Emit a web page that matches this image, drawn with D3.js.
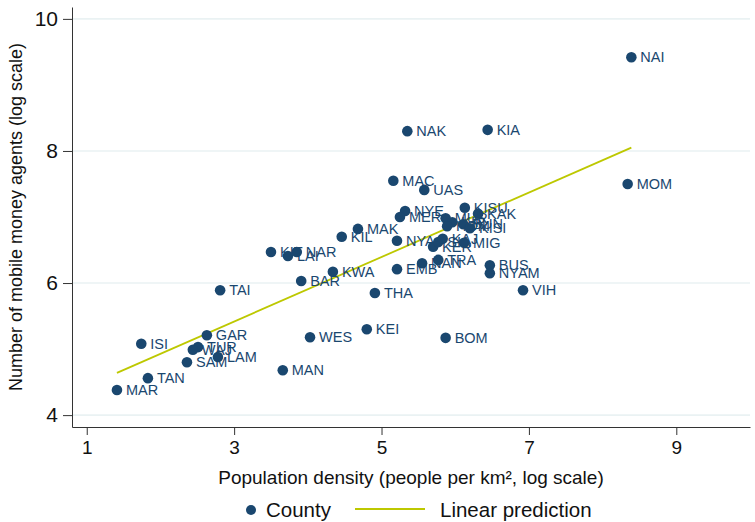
<!DOCTYPE html>
<html>
<head>
<meta charset="utf-8">
<script src="https://cdn.jsdelivr.net/npm/d3@7"></script>
<style>
  body { margin: 0; background: #fff; }
  svg { display: block; }
</style>
</head>
<body>
<svg id="chart" width="755" height="522"></svg>
<script>
// county codes, log population density, log number of agents
let counties = ['NAI','KIA','NAK','MAC','UAS','MOM','KISU','NYE','MER','MUR','KIR','KAK','BUN','HOM','KISI',
  'NYA','KER','SIA','KAJ','MIG','EMB','NAN','TRA','BUS','NYAM','VIH','THA','KWA','BAR','KIL','MAK','KIT',
  'NAR','LAI','TAI','GAR','ISI','TUR','WAJ','SAM','LAM','TAN','MAR','MAN','WES','KEI','BOM'];
let density = [8.39,6.44,5.35,5.16,5.58,8.34,6.13,5.32,5.25,5.87,5.96,6.31,6.11,5.89,6.20,
  5.21,5.70,5.77,5.83,6.12,5.21,5.55,5.77,6.47,6.47,6.92,4.91,4.34,3.91,4.46,4.68,3.50,
  3.85,3.73,2.81,2.63,1.74,2.51,2.44,2.36,2.78,1.83,1.41,3.66,4.03,4.80,5.87];
let agents = [9.42,8.32,8.30,7.55,7.41,7.50,7.14,7.09,7.00,6.98,6.92,7.05,6.89,6.86,6.83,
  6.64,6.55,6.62,6.67,6.61,6.21,6.30,6.35,6.27,6.15,5.89,5.85,6.17,6.03,6.70,6.82,6.47,
  6.47,6.41,5.89,5.21,5.08,5.03,4.99,4.80,4.88,4.56,4.38,4.68,5.18,5.30,5.17];

// linear prediction endpoints
let fitX = [1.41, 8.39];
let fitY = [4.64, 8.05];

let xTicks = [1, 3, 5, 7, 9];
let yTicks = [4, 6, 8, 10];

let navy = '#1a476f';
let lime = '#bdc800';

let svg = d3.select('#chart');

let x = d3.scaleLinear().domain([0.8, 10.0]).range([72, 750]);
let y = d3.scaleLinear().domain([3.82, 10.18]).range([427, 7]);

// gridlines
svg.append('g')
  .selectAll('line')
  .data(yTicks)
  .enter()
  .append('line')
  .attr('x1', 72)
  .attr('x2', 750)
  .attr('y1', (d) => y(d))
  .attr('y2', (d) => y(d))
  .attr('stroke', '#eaf2f3')
  .attr('stroke-width', 1.6);

// axes
let xAxis = svg.append('g')
  .attr('transform', 'translate(0,427)')
  .call(d3.axisBottom(x).tickValues(xTicks).tickFormat(d3.format('d')).tickSize(8).tickSizeOuter(0).tickPadding(6));
xAxis.select('.domain').attr('stroke', '#333');
xAxis.selectAll('.tick line').attr('stroke', '#333');
xAxis.selectAll('text')
  .attr('font-family', '"Liberation Sans Narrow", "Liberation Sans", sans-serif')
  .attr('font-size', 19)
  .attr('fill', '#111');

let yAxis = svg.append('g')
  .attr('transform', 'translate(72,0)')
  .call(d3.axisLeft(y).tickValues(yTicks).tickFormat(d3.format('d')).tickSize(9).tickSizeOuter(0).tickPadding(5));
yAxis.select('.domain').attr('stroke', '#333');
yAxis.selectAll('.tick line').attr('stroke', '#333');
yAxis.selectAll('text')
  .attr('font-family', '"Liberation Sans", Arial, sans-serif')
  .attr('font-size', 21)
  .attr('fill', '#111');

// axis titles
svg.append('text')
  .attr('x', 411)
  .attr('y', 484)
  .attr('text-anchor', 'middle')
  .attr('font-family', '"Liberation Sans Narrow", "Liberation Sans", sans-serif')
  .attr('font-size', 19)
  .attr('fill', '#111')
  .text('Population density (people per km², log scale)');

svg.append('text')
  .attr('transform', 'translate(22,217) rotate(-90)')
  .attr('text-anchor', 'middle')
  .attr('font-family', '"Liberation Sans", Arial, sans-serif')
  .attr('font-size', 18)
  .attr('fill', '#111')
  .text('Number of mobile money agents (log scale)');

// fit line
svg.append('line')
  .attr('x1', x(fitX[0]))
  .attr('y1', y(fitY[0]))
  .attr('x2', x(fitX[1]))
  .attr('y2', y(fitY[1]))
  .attr('stroke', lime)
  .attr('stroke-width', 1.8);

// points
let pts = svg.append('g')
  .selectAll('g')
  .data(counties)
  .enter()
  .append('g')
  .attr('transform', (d, i) => `translate(${x(density[i])},${y(agents[i])})`);

pts.append('circle')
  .attr('r', 5.3)
  .attr('fill', navy);

pts.append('text')
  .attr('x', 9)
  .attr('y', 5)
  .attr('font-family', '"Liberation Sans", Arial, sans-serif')
  .attr('font-size', 14.5)
  .attr('fill', navy)
  .text((d) => d);

// legend
let legend = svg.append('g');
legend.append('circle')
  .attr('cx', 251)
  .attr('cy', 510)
  .attr('r', 5)
  .attr('fill', navy);
legend.append('text')
  .attr('x', 266)
  .attr('y', 517)
  .attr('font-family', '"Liberation Sans Narrow", "Liberation Sans", sans-serif')
  .attr('font-size', 20.5)
  .attr('fill', '#111')
  .text('County');
legend.append('line')
  .attr('x1', 355)
  .attr('x2', 425)
  .attr('y1', 509)
  .attr('y2', 509)
  .attr('stroke', lime)
  .attr('stroke-width', 1.8);
legend.append('text')
  .attr('x', 440)
  .attr('y', 517)
  .attr('font-family', '"Liberation Sans Narrow", "Liberation Sans", sans-serif')
  .attr('font-size', 20.5)
  .attr('fill', '#111')
  .text('Linear prediction');
</script>
</body>
</html>
